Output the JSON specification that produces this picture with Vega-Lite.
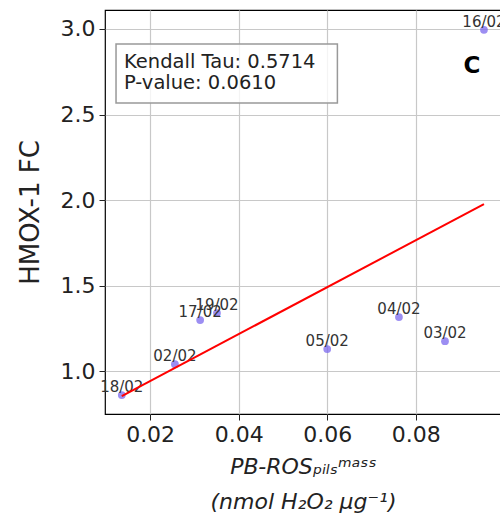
{
  "$schema": "https://vega.github.io/schema/vega-lite/v6.json",
  "autosize": "none",
  "width": 396,
  "height": 404,
  "padding": {"left": 105, "top": 10, "right": 0, "bottom": 116},
  "background": "white",
  "config": {
    "font": "DejaVu Sans",
    "view": {"stroke": "black", "strokeWidth": 1.2},
    "axis": {
      "grid": true,
      "gridColor": "#c8c8c8",
      "gridWidth": 1.2,
      "domain": false,
      "tickColor": "#222",
      "tickSize": 6,
      "labelColor": "#222",
      "labelFontSize": 22,
      "labelPadding": 4,
      "titleColor": "#222",
      "titleFontWeight": "normal"
    }
  },
  "data": {
    "values": [
      {"date": "18/02", "pb_ros": 0.0136, "hmox1_fc": 0.86},
      {"date": "02/02", "pb_ros": 0.0256, "hmox1_fc": 1.04},
      {"date": "17/02", "pb_ros": 0.0313, "hmox1_fc": 1.298},
      {"date": "19/02", "pb_ros": 0.0351, "hmox1_fc": 1.339},
      {"date": "05/02", "pb_ros": 0.0600, "hmox1_fc": 1.129},
      {"date": "04/02", "pb_ros": 0.0762, "hmox1_fc": 1.316},
      {"date": "03/02", "pb_ros": 0.0866, "hmox1_fc": 1.175},
      {"date": "16/02", "pb_ros": 0.0954, "hmox1_fc": 2.995}
    ]
  },
  "encoding": {
    "x": {
      "field": "pb_ros",
      "type": "quantitative",
      "scale": {"domain": [0.00981, 0.09925], "nice": false, "zero": false},
      "axis": {
        "values": [0.02, 0.04, 0.06, 0.08],
        "format": ".2f",
        "title": ["PB-ROSₚᵢₗₛᵐᵃˢˢ", "(nmol H₂O₂ μg⁻¹)"],
        "titleFontSize": 22,
        "titleFontStyle": "italic",
        "titlePadding": 11,
        "titleLineHeight": 35
      }
    },
    "y": {
      "field": "hmox1_fc",
      "type": "quantitative",
      "scale": {"domain": [0.749, 3.111], "nice": false, "zero": false},
      "axis": {
        "values": [1.0, 1.5, 2.0, 2.5, 3.0],
        "format": ".1f",
        "title": "HMOX-1 FC",
        "titleFontSize": 26,
        "titlePadding": 17
      }
    }
  },
  "layer": [
    {
      "mark": {"type": "circle", "color": "mediumslateblue", "opacity": 0.75, "size": 60}
    },
    {
      "mark": {"type": "text", "fontSize": 15, "color": "#333", "baseline": "alphabetic", "dy": -3},
      "encoding": {"text": {"field": "date"}}
    },
    {
      "transform": [{"regression": "hmox1_fc", "on": "pb_ros", "method": "linear"}],
      "mark": {"type": "line", "color": "red", "strokeWidth": 2},
      "encoding": {}
    },
    {
      "transform": [{"filter": "datum.date === '16/02'"}],
      "mark": {"type": "rect", "fill": "white", "fillOpacity": 0.8, "stroke": "#999", "strokeWidth": 1.5},
      "encoding": {
        "x": {"datum": 0.0123},
        "x2": {"datum": 0.0623},
        "y": {"datum": 2.912},
        "y2": {"datum": 2.567}
      }
    },
    {
      "transform": [{"filter": "datum.date === '16/02'"}],
      "mark": {"type": "text", "align": "left", "baseline": "middle", "fontSize": 19.5, "color": "#222", "lineBreak": "\n", "lineHeight": 21},
      "encoding": {
        "x": {"datum": 0.0141},
        "y": {"datum": 2.807},
        "text": {"value": "Kendall Tau: 0.5714\nP-value: 0.0610"}
      }
    },
    {
      "transform": [{"filter": "datum.date === '16/02'"}],
      "mark": {"type": "text", "align": "center", "baseline": "middle", "fontSize": 23, "fontWeight": "bold", "color": "black"},
      "encoding": {
        "x": {"datum": 0.0927},
        "y": {"datum": 2.785},
        "text": {"value": "C"}
      }
    }
  ]
}
